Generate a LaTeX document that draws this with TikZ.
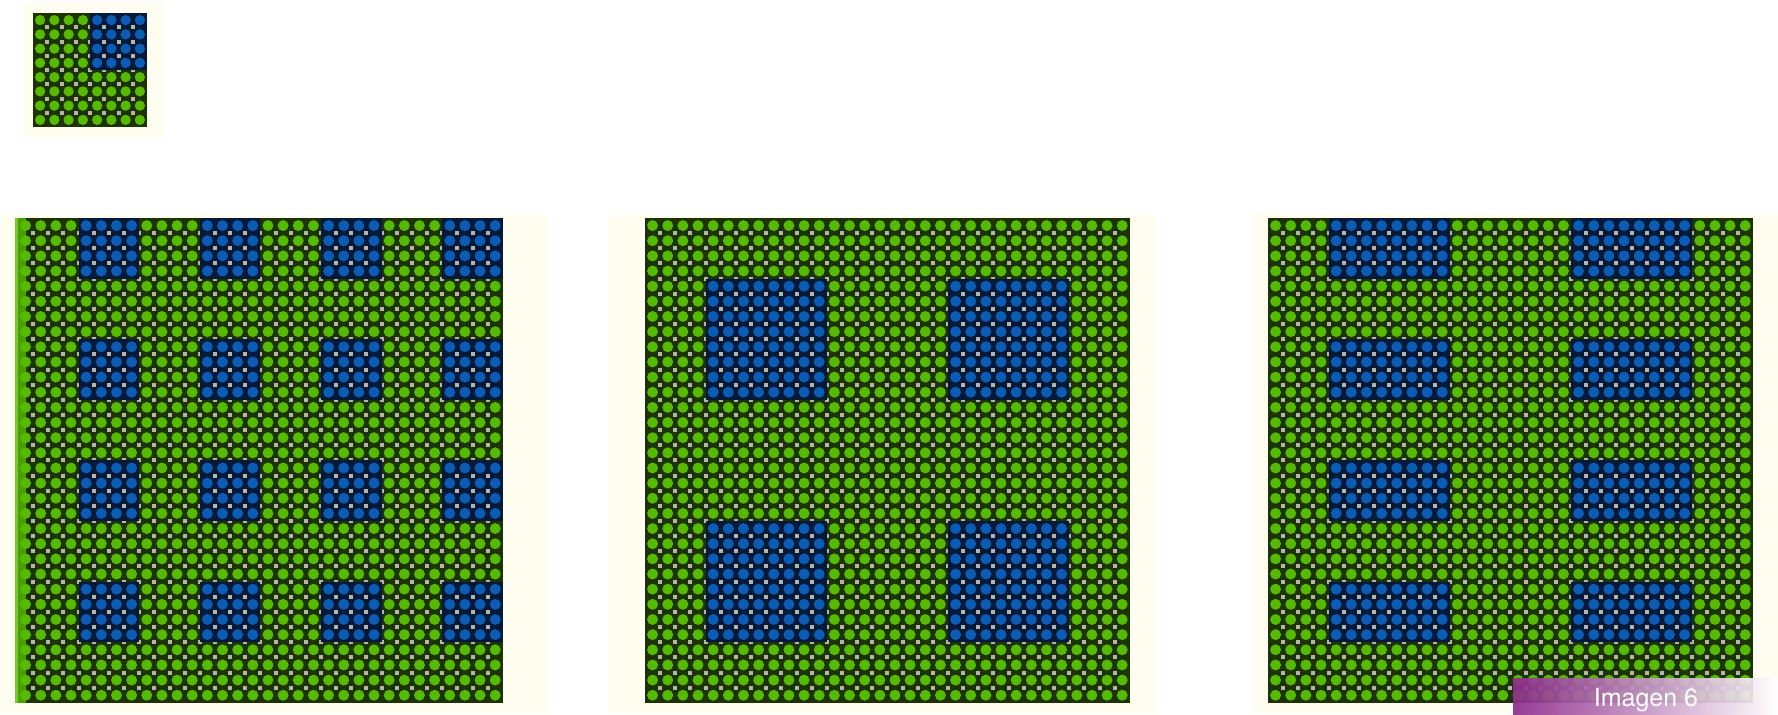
\documentclass[tikz,border=0pt]{standalone}
\usepackage{fontspec}
\setsansfont{TeX Gyre Heros}
\usetikzlibrary{positioning}

\definecolor{cream}{HTML}{FFFCF0}
\definecolor{leaf}{HTML}{55BA00}
\definecolor{leafdark}{HTML}{1C3306}
\definecolor{sea}{HTML}{0B5CB5}
\definecolor{seadark}{HTML}{051A38}
\definecolor{gapgray}{HTML}{B5B5AE}
\definecolor{tagpurple}{HTML}{8E2C8C}

% patch of dots: x, y, cols, rows, pitch, dot colour, ground colour
\newcommand{\dotpatch}[7]{%
  \pgfmathsetmacro{\patchx}{#1}%
  \pgfmathsetmacro{\patchy}{#2}%
  \fill[#7] (\patchx,\patchy) rectangle ++({#3*#5},{#4*#5});
  \foreach \dotcol in {1,...,#3}{
    \foreach \dotrow in {1,...,#4}{
      \fill[#6] ({\patchx+(\dotcol-0.5)*#5},{\patchy+(\dotrow-0.5)*#5}) circle[radius={#5*0.18pt}];
    }
  }
  \foreach \dotcol in {2,...,#3}{
    \foreach \dotrow in {2,...,#4}{
      \fill[gapgray] ({\patchx+(\dotcol-1)*#5-2},{\patchy+(\dotrow-1)*#5-2}) rectangle ++(4,4);
    }
  }
}

\begin{document}
\begin{tikzpicture}[x=0.5pt, y=-0.5pt]
\useasboundingbox (0,0) rectangle (1778,714);
\fill[white] (0,0) rectangle (1778,714);

% cream grounds
\fill[cream] (23,3) rectangle (165,137);
\fill[cream] (0,215) rectangle (547,714);
\fill[cream] (609,215) rectangle (1155,714);
\fill[cream] (1252,213) rectangle (1778,714);

% the tile
\dotpatch{33}{13}{8}{8}{14.25}{leaf}{leafdark}
\dotpatch{90}{13}{4}{4}{14.25}{sea}{seadark}

% panel 1
\dotpatch{18}{218}{32}{32}{15.15}{leaf}{leafdark}
\foreach \bx in {0,...,3}{
  \foreach \by in {0,...,3}{
    \dotpatch{18+(8*\bx+4)*15.15}{218+8*\by*15.15}{4}{4}{15.15}{sea}{seadark}
  }
}
\fill[leaf, fill opacity=0.8] (15,218) rectangle (26,703);

% panel 2
\dotpatch{645}{218}{32}{32}{15.15}{leaf}{leafdark}
\foreach \bx in {0,1}{
  \foreach \by in {0,1}{
    \dotpatch{645+(16*\bx+4)*15.15}{218+(16*\by+4)*15.15}{8}{8}{15.15}{sea}{seadark}
  }
}

% panel 3
\dotpatch{1268}{218}{32}{32}{15.15}{leaf}{leafdark}
\foreach \bx in {0,1}{
  \foreach \by in {0,...,3}{
    \dotpatch{1268+(16*\bx+4)*15.15}{218+8*\by*15.15}{8}{4}{15.15}{sea}{seadark}
  }
}

% caption tag
\shade[left color=tagpurple, right color=white, opacity=0.92] (1513,678) rectangle (1778,714);
\node (tag) [anchor=base, text=white, inner sep=0pt, font=\sffamily\fontsize{12.5}{14}\selectfont] at (1646,706) {Imagen 6};
\end{tikzpicture}
\end{document}
